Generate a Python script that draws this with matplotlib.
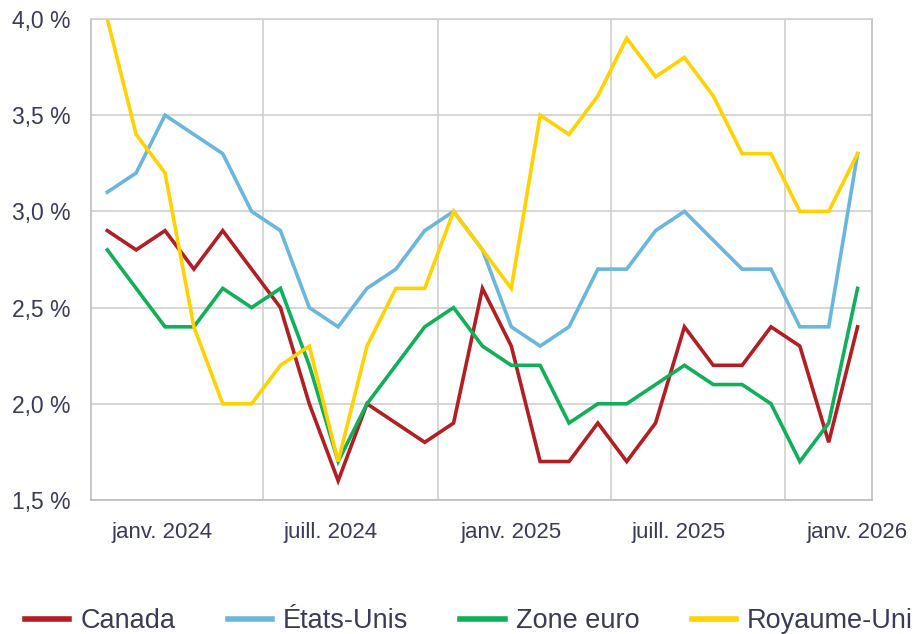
import numpy as np
import matplotlib

matplotlib.use('Agg')
import matplotlib.pyplot as plt

plt.rcParams['font.family'] = ['Liberation Sans', 'DejaVu Sans']

# janv. 2024 .. mars 2026, one value per month (y/y inflation, %)
months = ['2024-01', '2024-02', '2024-03', '2024-04', '2024-05', '2024-06',
          '2024-07', '2024-08', '2024-09', '2024-10', '2024-11', '2024-12',
          '2025-01', '2025-02', '2025-03', '2025-04', '2025-05', '2025-06',
          '2025-07', '2025-08', '2025-09', '2025-10', '2025-11', '2025-12',
          '2026-01', '2026-02', '2026-03']

canada = [2.9, 2.8, 2.9, 2.7, 2.9, 2.7, 2.5, 2.0, 1.6, 2.0, 1.9, 1.8, 1.9, 2.6,
          2.3, 1.7, 1.7, 1.9, 1.7, 1.9, 2.4, 2.2, 2.2, 2.4, 2.3, 1.8, 2.4]
etats_unis = [3.1, 3.2, 3.5, 3.4, 3.3, 3.0, 2.9, 2.5, 2.4, 2.6, 2.7, 2.9, 3.0, 2.8,
              2.4, 2.3, 2.4, 2.7, 2.7, 2.9, 3.0, None, 2.7, 2.7, 2.4, 2.4, 3.3]
zone_euro = [2.8, 2.6, 2.4, 2.4, 2.6, 2.5, 2.6, 2.2, 1.7, 2.0, 2.2, 2.4, 2.5, 2.3,
             2.2, 2.2, 1.9, 2.0, 2.0, 2.1, 2.2, 2.1, 2.1, 2.0, 1.7, 1.9, 2.6]
royaume_uni = [4.0, 3.4, 3.2, 2.4, 2.0, 2.0, 2.2, 2.3, 1.7, 2.3, 2.6, 2.6, 3.0, 2.8,
               2.6, 3.5, 3.4, 3.6, 3.9, 3.7, 3.8, 3.6, 3.3, 3.3, 3.0, 3.0, 3.3]

tick_labels = ['janv. 2024', 'juill. 2024', 'janv. 2025', 'juill. 2025', 'janv. 2026']
tick_pos = [1.9, 7.75, 14.0, 19.8, 26.0]
grid_pos = [5.41, 11.47, 17.45, 23.5]

series = [
    ('Canada', canada, '#B31E22'),
    ('États-Unis', etats_unis, '#6AB7DD'),
    ('Zone euro', zone_euro, '#10B05A'),
    ('Royaume-Uni', royaume_uni, '#FFD200'),
]

text_col = '#3A3A5A'
grid_col = '#CFCFCF'

fig = plt.figure(figsize=(9.13, 6.34), dpi=100)
ax = fig.add_axes([91 / 913, 1 - 500 / 634, (871.7 - 91) / 913, (500 - 19) / 634])

x_all = np.arange(len(months))
for name, vals, col in series:
    xs = [x for x, v in zip(x_all, vals) if v is not None]
    ys = [v for v in vals if v is not None]
    ax.plot(xs, ys, color=col, linewidth=2.6, label=name, solid_joinstyle='miter')

ax.set_xlim(-0.565, 26.49)
ax.set_ylim(1.5, 4.0)
ax.set_yticks(np.arange(1.5, 4.01, 0.5))
ax.set_yticklabels([f'{v:.1f} %'.replace('.', ',') for v in np.arange(1.5, 4.01, 0.5)])
ax.set_xticks(tick_pos)
ax.set_xticklabels(tick_labels)
ax.set_xticks(grid_pos, minor=True)

ax.grid(axis='y', which='major', color=grid_col, linewidth=1.2)
ax.grid(axis='x', which='minor', color=grid_col, linewidth=1.2)
ax.set_axisbelow(True)
ax.tick_params(which='both', length=0)
ax.tick_params(axis='y', labelsize=16.5, colors=text_col, pad=15)
ax.tick_params(axis='x', labelsize=16, colors=text_col, pad=16)
for s in ax.spines.values():
    s.set_color('#BDBDBD')
    s.set_linewidth(1.2)
ax.spines['top'].set_color(grid_col)

leg = fig.legend(loc='center left', bbox_to_anchor=(25 / 913, 1 - 621 / 634),
                 ncol=4, frameon=False, fontsize=19.5, handlelength=1.63,
                 handletextpad=0.41, columnspacing=1.93, borderpad=0,
                 borderaxespad=0)
for t in leg.get_texts():
    t.set_color(text_col)
for h in leg.get_lines():
    h.set_linewidth(4)

plt.savefig('out.png', dpi=100)
